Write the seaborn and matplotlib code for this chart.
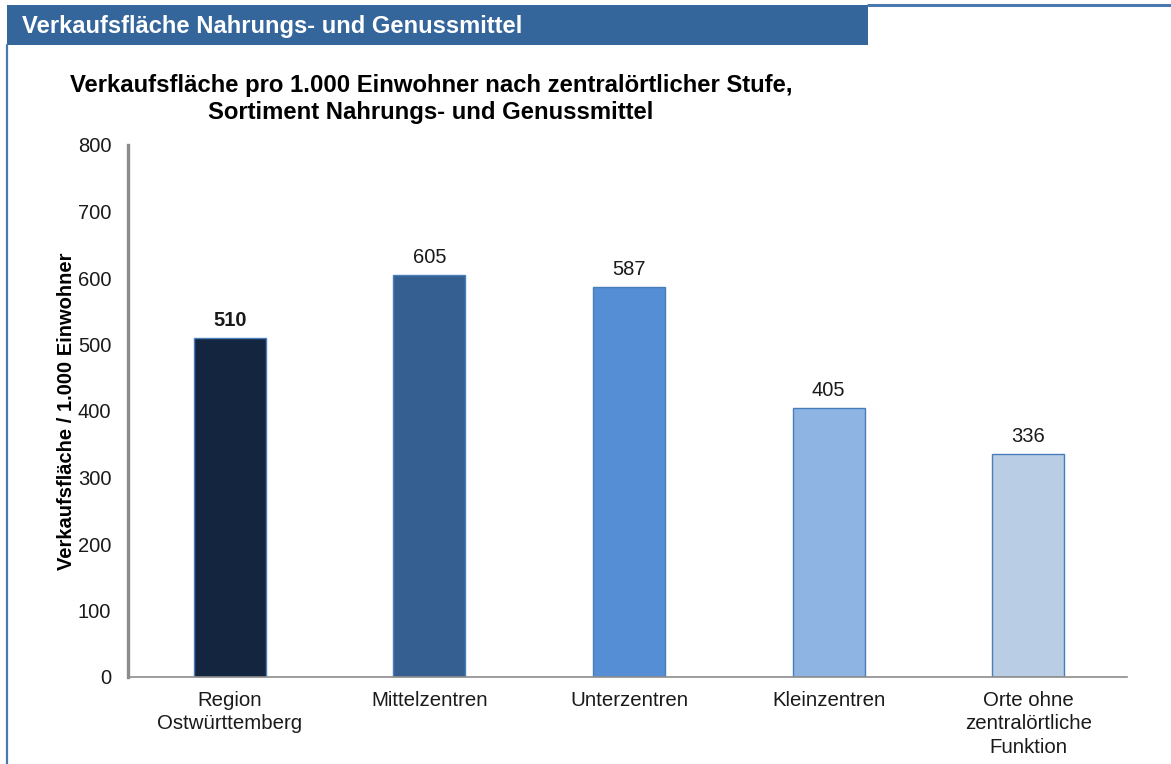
import matplotlib
matplotlib.use("Agg")
import matplotlib.pyplot as plt
import seaborn as sns
import pandas as pd
from matplotlib.patches import Rectangle
from matplotlib.lines import Line2D

categories = ["Region\nOstwürttemberg", "Mittelzentren", "Unterzentren",
              "Kleinzentren", "Orte ohne\nzentralörtliche\nFunktion"]
values = [510, 605, 587, 405, 336]
colors = ["#14253F", "#355F91", "#558ED5", "#8EB4E3", "#B9CDE5"]
yticks = [0, 100, 200, 300, 400, 500, 600, 700, 800]

header = "Verkaufsfläche Nahrungs- und Genussmittel"
title = "Verkaufsfläche pro 1.000 Einwohner nach zentralörtlicher Stufe,\nSortiment Nahrungs- und Genussmittel"
ylabel = "Verkaufsfläche / 1.000 Einwohner"

sns.set_theme(style="white")
plt.rcParams["font.family"] = ["Liberation Sans", "DejaVu Sans"]

W, H = 1171, 764
fig = plt.figure(figsize=(W / 100, H / 100), dpi=100)
ax = fig.add_axes([128 / W, 1 - 677 / H, (1127 - 128) / W, (677 - 145) / H])

df = pd.DataFrame({"cat": categories, "val": values})
sns.barplot(data=df, x="cat", y="val", hue="cat", palette=colors, legend=False,
            width=0.36, edgecolor="#4A7EBB", linewidth=1, ax=ax, saturation=1)

ax.set_ylim(0, 800)
ax.set_xlim(-0.51, 4.495)
ax.set_yticks(yticks)
ax.tick_params(axis="y", labelsize=14.5, pad=12, length=0, colors="#1a1a1a")
ax.tick_params(axis="x", labelsize=14.7, pad=10, length=0, colors="#1a1a1a")
for lab in ax.get_xticklabels():
    lab.set_linespacing(1.3)
ax.set_xlabel("")
ax.set_ylabel(ylabel, fontsize=14.5, fontweight="bold", labelpad=1, color="black")

for s in ["top", "right"]:
    ax.spines[s].set_visible(False)
ax.spines["left"].set_color("#8C8C8C")
ax.spines["left"].set_linewidth(2.4)
ax.spines["bottom"].set_color("#8C8C8C")
ax.spines["bottom"].set_linewidth(1.2)

for i, v in enumerate(values):
    ax.text(i, v + 12, f"{v}", ha="center", va="bottom", fontsize=14.5,
            fontweight="bold" if i == 0 else "normal", color="#1a1a1a")

fig.text(431 / W, 1 - 74 / H, title, ha="center", va="top", fontsize=17.2,
         fontweight="bold", color="black", linespacing=1.2)

# header bar and frame lines
fig.add_artist(Rectangle((7 / W, 1 - 45 / H), (868 - 7) / W, 40 / H,
                         transform=fig.transFigure, facecolor="#34659B",
                         edgecolor="none"))
fig.add_artist(Line2D([868 / W, 1], [1 - 5 / H, 1 - 5 / H], transform=fig.transFigure,
                      color="#4A78B0", linewidth=2.2))
fig.add_artist(Line2D([7 / W, 7 / W], [0, 1 - 45 / H], transform=fig.transFigure,
                      color="#4A78B0", linewidth=1.6))
fig.text(22 / W, 1 - 26 / H, header, ha="left", va="center", fontsize=17.1,
         color="white", fontweight="bold")

fig.savefig("out.png", dpi=100)
